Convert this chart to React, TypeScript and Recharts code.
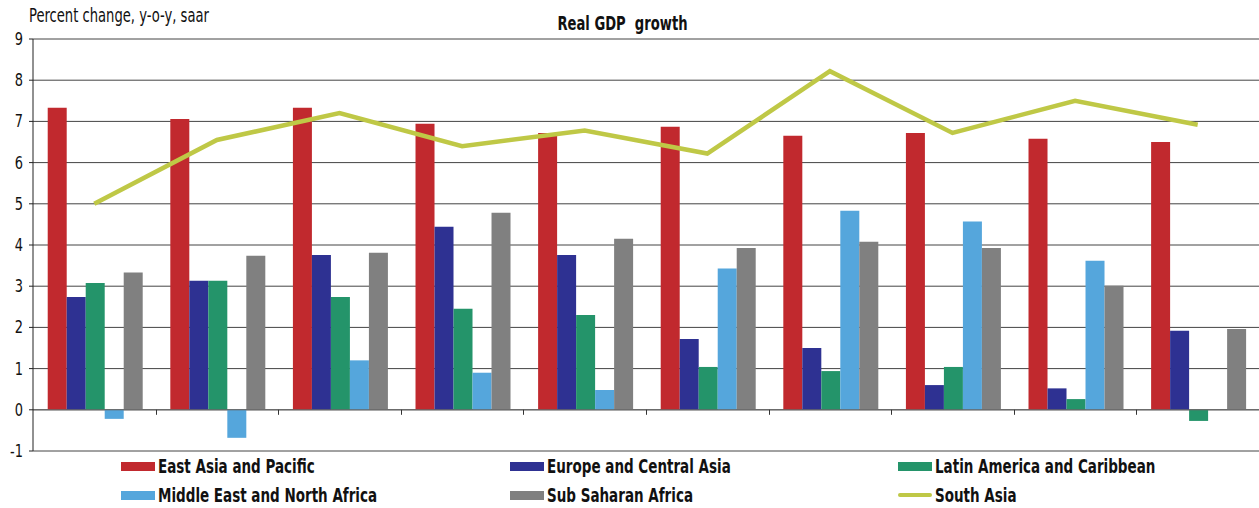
import React from "react";
import {
  ComposedChart,
  Bar,
  Line,
  XAxis,
  YAxis,
  CartesianGrid,
  ReferenceLine,
} from "recharts";

const periods = ["P1", "P2", "P3", "P4", "P5", "P6", "P7", "P8", "P9", "P10"];
const eastAsia = [7.33, 7.06, 7.33, 6.94, 6.72, 6.87, 6.65, 6.72, 6.58, 6.5];
const europe = [2.74, 3.13, 3.76, 4.44, 3.76, 1.72, 1.5, 0.6, 0.52, 1.92];
const latAm = [3.08, 3.13, 2.74, 2.45, 2.3, 1.04, 0.94, 1.04, 0.26, -0.27];
const mena = [-0.22, -0.68, 1.2, 0.9, 0.48, 3.43, 4.83, 4.57, 3.62, null];
const ssa = [3.33, 3.74, 3.81, 4.78, 4.15, 3.93, 4.08, 3.93, 3.01, 1.96];
const southAsia = [5.0, 6.55, 7.2, 6.4, 6.78, 6.22, 8.22, 6.72, 7.5, 6.92];
const yTicks = [-1, 0, 1, 2, 3, 4, 5, 6, 7, 8, 9];

const data = periods.map((p, i) => ({
  name: p,
  eastAsia: eastAsia[i],
  europe: europe[i],
  latAm: latAm[i],
  mena: mena[i],
  ssa: ssa[i],
  southAsia: southAsia[i],
}));

const FONT = "'DejaVu Sans Condensed', 'Liberation Sans Narrow', sans-serif";

const W = 1259;
const H = 508;
const M = { top: 39, right: 0, left: 0, bottom: 56 };
const X_AXIS_H = 1;
const Y_AXIS_W = 33;
const Y_MIN = -1;
const Y_MAX = 9;

const legendItems = [
  { label: "East Asia and Pacific", color: "#C1292E", type: "bar" },
  { label: "Europe and Central Asia", color: "#2E3192", type: "bar" },
  { label: "Latin America and Caribbean", color: "#24946A", type: "bar" },
  { label: "Middle East and North Africa", color: "#55A6DC", type: "bar" },
  { label: "Sub Saharan Africa", color: "#808080", type: "bar" },
  { label: "South Asia", color: "#BFC846", type: "line" },
];
const legendCols = [121, 510, 898];
const legendRows = [466, 495];

// small tick marks on the zero line between the categories
const ZeroTick = (props: any) => {
  const { x, index } = props;
  const plotH = H - M.top - M.bottom - X_AXIS_H;
  const zeroY = M.top + (Y_MAX / (Y_MAX - Y_MIN)) * plotH;
  const band = (W - Y_AXIS_W) / periods.length;
  if (index === 0) return <g />;
  const bx = Math.round(x - band / 2) + 0.5;
  return (
    <g>
      <line x1={bx} x2={bx} y1={zeroY} y2={zeroY + 5} stroke="#333" strokeWidth={1} />
    </g>
  );
};

const YTick = (props: any) => {
  const { x, y, payload } = props;
  return (
    <text
      x={x - 4}
      y={y}
      dy={6}
      textAnchor="end"
      fontFamily={FONT}
      fontSize={18}
      fill="#111"
      transform={`translate(${x - 4},0) scale(0.8,1) translate(${-(x - 4)},0)`}
    >
      {payload.value}
    </text>
  );
};

export default function App() {
  return (
    <div style={{ position: "absolute", left: 0, top: 0, width: W, height: H, background: "#fff" }}>
      <div
        style={{
          position: "absolute",
          left: 29,
          top: 3,
          fontFamily: FONT,
          fontSize: 20,
          color: "#111",
          whiteSpace: "nowrap",
          transform: "scaleX(0.73)",
          transformOrigin: "left center",
        }}
      >
        Percent change, y-o-y, saar
      </div>
      <div
        style={{
          position: "absolute",
          left: 0,
          width: W,
          top: 11,
          textAlign: "center",
          fontFamily: FONT,
          fontWeight: 700,
          fontSize: 20,
          color: "#111",
          whiteSpace: "pre",
          transform: "translateX(-7px) scaleX(0.73)",
          transformOrigin: "center center",
        }}
      >
        {"Real GDP  growth"}
      </div>
      <ComposedChart width={W} height={H} data={data} margin={M} barCategoryGap="12%" barGap={0}>
        <CartesianGrid vertical={false} stroke="#444" strokeWidth={1} />
        <XAxis
          dataKey="name"
          axisLine={false}
          tickLine={false}
          tick={<ZeroTick />}
          height={X_AXIS_H}
          interval={0}
        />
        <YAxis
          width={Y_AXIS_W}
          domain={[Y_MIN, Y_MAX]}
          ticks={yTicks}
          interval={0}
          axisLine={{ stroke: "#222" }}
          tickLine={{ stroke: "#222" }}
          tickSize={4}
          tick={<YTick />}
        />
        <ReferenceLine y={0} stroke="#666" />
        <Bar dataKey="eastAsia" fill="#C1292E" isAnimationActive={false} />
        <Bar dataKey="europe" fill="#2E3192" isAnimationActive={false} />
        <Bar dataKey="latAm" fill="#24946A" isAnimationActive={false} />
        <Bar dataKey="mena" fill="#55A6DC" isAnimationActive={false} />
        <Bar dataKey="ssa" fill="#808080" isAnimationActive={false} />
        <Line
          dataKey="southAsia"
          stroke="#BFC846"
          strokeWidth={4.5}
          dot={false}
          activeDot={false}
          isAnimationActive={false}
        />
      </ComposedChart>
      {legendItems.map((it, i) => (
        <div
          key={it.label}
          style={{
            position: "absolute",
            left: legendCols[i % 3],
            top: legendRows[Math.floor(i / 3)] - 9,
            height: 18,
            display: "flex",
            alignItems: "center",
            whiteSpace: "nowrap",
          }}
        >
          <span
            style={{
              display: "inline-block",
              width: 34,
              height: it.type === "bar" ? 9 : 4,
              borderRadius: it.type === "bar" ? 0 : 2,
              background: it.color,
              marginRight: 3,
            }}
          />
          <span
            style={{
              fontFamily: FONT,
              fontWeight: 700,
              fontSize: 20,
              lineHeight: "18px",
              color: "#111",
              display: "inline-block",
              transform: "scaleX(0.75)",
              transformOrigin: "left center",
            }}
          >
            {it.label}
          </span>
        </div>
      ))}
    </div>
  );
}
